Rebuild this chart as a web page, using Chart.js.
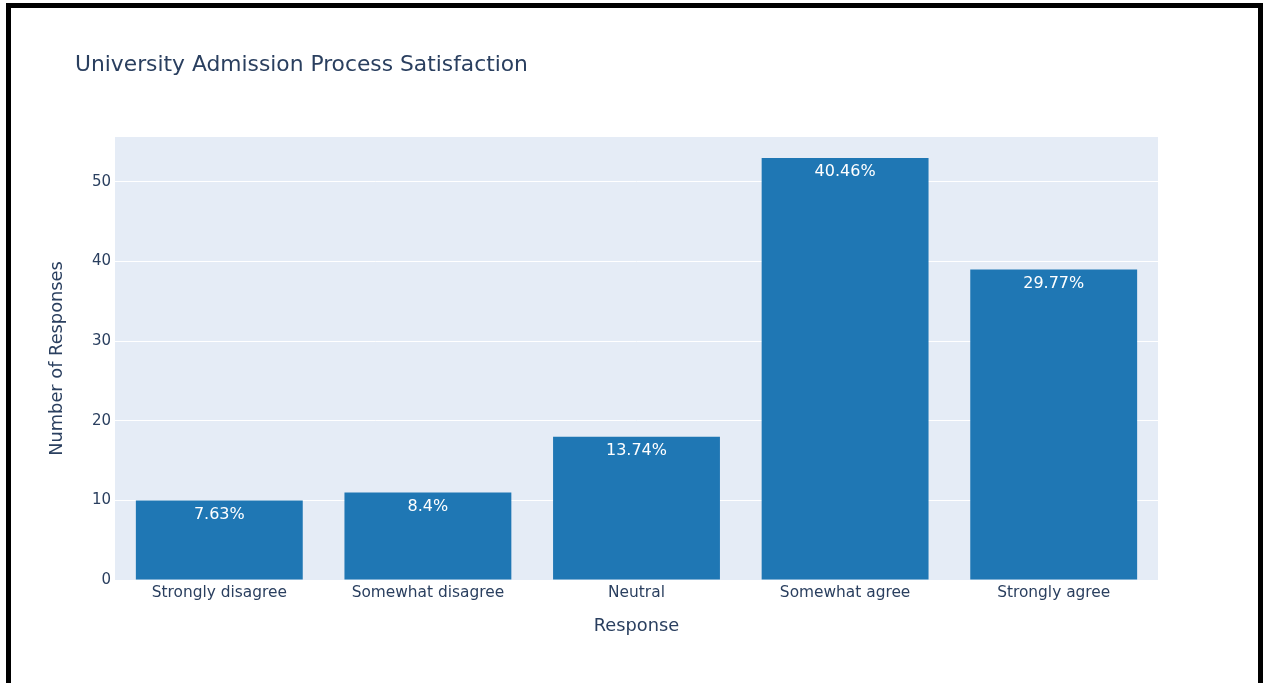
<!DOCTYPE html>
<html>
<head>
<meta charset="utf-8">
<title>University Admission Process Satisfaction</title>
<script src="https://cdn.jsdelivr.net/npm/chart.js@4"></script>
<style>
  html, body { margin: 0; padding: 0; background: #fff; overflow: hidden; }
  #frame {
    position: absolute; left: 6px; top: 3px; width: 1247px; height: 700px;
    border: 5px solid #000; border-bottom: none;
  }
  #wrap { position: absolute; left: 0; top: 0; width: 1263px; height: 683px; }
</style>
</head>
<body>
<div id="frame"></div>
<div id="wrap"><canvas id="satisfaction"></canvas></div>
<script>
'use strict'

var responses = ['Strongly disagree', 'Somewhat disagree', 'Neutral', 'Somewhat agree', 'Strongly agree'];
var counts = [10, 11, 18, 53, 39];
var yTicks = [0, 10, 20, 30, 40, 50];

var total = counts.reduce(function (a, b) { return a + b; }, 0);
var percentLabels = counts.map(function (c) {
  return parseFloat((c / total * 100).toFixed(2)) + '%';
});

var textColor = '#2a3f5f';
var fontFamily = '"DejaVu Sans", Verdana, sans-serif';

// light blue-grey panel behind the bars
var plotBackground = {
  id: 'plotBackground',
  beforeDraw: function (chart) {
    var a = chart.chartArea;
    var ctx = chart.ctx;
    ctx.save();
    ctx.fillStyle = '#E5ECF6';
    ctx.fillRect(a.left, a.top, a.right - a.left, a.bottom - a.top);
    ctx.restore();
  }
};

// percentage text just inside the top of each bar, plus the chart heading
var barText = {
  id: 'barText',
  afterDatasetsDraw: function (chart) {
    var ctx = chart.ctx;
    var bars = chart.getDatasetMeta(0).data;
    ctx.save();
    ctx.fillStyle = '#ffffff';
    ctx.font = '16px ' + fontFamily;
    ctx.textAlign = 'center';
    ctx.textBaseline = 'middle';
    bars.forEach(function (bar, i) {
      ctx.fillText(percentLabels[i], bar.x, bar.y + 14);
    });
    ctx.fillStyle = textColor;
    ctx.font = '21.8px ' + fontFamily;
    ctx.textAlign = 'left';
    ctx.fillText('University Admission Process Satisfaction', 75, 65);
    ctx.restore();
  }
};

var canvas = document.getElementById('satisfaction');

var satisfactionChart = new Chart(canvas, {
  type: 'bar',
  data: {
    labels: responses,
    datasets: [
      {
        label: 'Number of Responses',
        data: counts,
        backgroundColor: '#1f77b4',
        barPercentage: 0.8,
        categoryPercentage: 1.0
      }]
  },
  options: {
    responsive: true,
    maintainAspectRatio: false,
    animation: false,
    layout: {
      padding: { left: 0, right: 105, top: 137, bottom: 0 }
    },
    plugins: {
      legend: { display: false },
      tooltip: { enabled: false }
    },
    scales: {
      x: {
        grid: { display: false, drawTicks: false },
        border: { display: false },
        ticks: {
          color: textColor,
          font: { family: fontFamily, size: 15.4 },
          padding: 4,
          maxRotation: 0
        },
        title: {
          display: true,
          text: 'Response',
          color: textColor,
          font: { family: fontFamily, size: 17.8 },
          padding: { top: 0, bottom: 46 }
        },
        afterFit: function (scale) { scale.height = 103; }
      },
      y: {
        min: 0,
        max: 55.65,
        afterBuildTicks: function (scale) {
          scale.ticks = yTicks.map(function (v) { return { value: v }; });
        },
        grid: { color: '#ffffff', lineWidth: 1, drawTicks: false },
        border: { display: false },
        ticks: {
          color: textColor,
          font: { family: fontFamily, size: 15 },
          padding: 4
        },
        title: {
          display: true,
          text: 'Number of Responses',
          color: textColor,
          font: { family: fontFamily, size: 17.8 },
          padding: { top: 47, bottom: 0 }
        },
        afterFit: function (scale) { scale.width = 115; }
      }
    }
  },
  plugins: [plotBackground, barText]
});
</script>
</body>
</html>
